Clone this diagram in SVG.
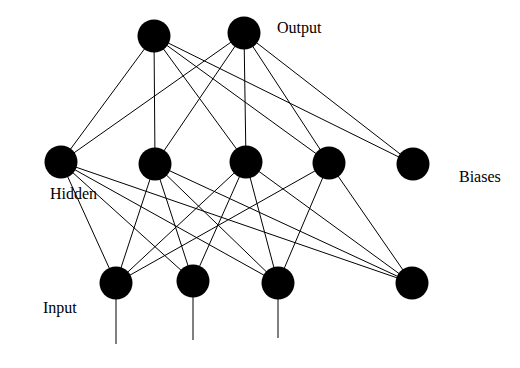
<svg xmlns="http://www.w3.org/2000/svg" width="520" height="368" viewBox="0 0 520 368">
<style>
.n{fill:#000}
.e line{stroke:#000;stroke-width:1}
.t{font-family:"Liberation Serif","Times New Roman",serif;font-size:16px;fill:#000}
</style>
<rect width="520" height="368" fill="#fff"/>
<g id="connectors" class="e">
<line x1="154" y1="36" x2="61" y2="162"/>
<line x1="154" y1="36" x2="155" y2="164"/>
<line x1="154" y1="36" x2="246" y2="162"/>
<line x1="154" y1="36" x2="329" y2="163"/>
<line x1="154" y1="36" x2="413" y2="164"/>
<line x1="244" y1="33" x2="61" y2="162"/>
<line x1="244" y1="33" x2="155" y2="164"/>
<line x1="244" y1="33" x2="246" y2="162"/>
<line x1="244" y1="33" x2="329" y2="163"/>
<line x1="244" y1="33" x2="413" y2="164"/>
<line x1="61" y1="162" x2="116" y2="283"/>
<line x1="61" y1="162" x2="193" y2="281"/>
<line x1="61" y1="162" x2="278" y2="283"/>
<line x1="61" y1="162" x2="412" y2="283"/>
<line x1="155" y1="164" x2="116" y2="283"/>
<line x1="155" y1="164" x2="193" y2="281"/>
<line x1="155" y1="164" x2="278" y2="283"/>
<line x1="155" y1="164" x2="412" y2="283"/>
<line x1="246" y1="162" x2="116" y2="283"/>
<line x1="246" y1="162" x2="193" y2="281"/>
<line x1="246" y1="162" x2="278" y2="283"/>
<line x1="246" y1="162" x2="412" y2="283"/>
<line x1="329" y1="163" x2="116" y2="283"/>
<line x1="329" y1="163" x2="278" y2="283"/>
<line x1="329" y1="163" x2="412" y2="283"/>
<line x1="116" y1="283" x2="116" y2="344"/>
<line x1="193" y1="281" x2="193" y2="340"/>
<line x1="278" y1="283" x2="278" y2="338"/>
</g>
<g id="out1"><circle class="n" cx="154" cy="36" r="16.5"/></g>
<g id="out2"><circle class="n" cx="244" cy="33" r="16.5"/></g>
<g id="hid1"><circle class="n" cx="61" cy="162" r="16.5"/></g>
<g id="hid2"><circle class="n" cx="155" cy="164" r="16.5"/></g>
<g id="hid3"><circle class="n" cx="246" cy="162" r="16.5"/></g>
<g id="hid4"><circle class="n" cx="329" cy="163" r="16.5"/></g>
<g id="bias1"><circle class="n" cx="413" cy="164" r="16.5"/></g>
<g id="in1"><circle class="n" cx="116" cy="283" r="16.5"/></g>
<g id="in2"><circle class="n" cx="193" cy="281" r="16.5"/></g>
<g id="in3"><circle class="n" cx="278" cy="283" r="16.5"/></g>
<g id="bias2"><circle class="n" cx="412" cy="283" r="16.5"/></g>
<g id="labels">
<text class="t" x="277" y="33">Output</text>
<text class="t" x="50" y="199">Hidden</text>
<text class="t" x="459" y="182">Biases</text>
<text class="t" x="43" y="313">Input</text>
</g>
</svg>
